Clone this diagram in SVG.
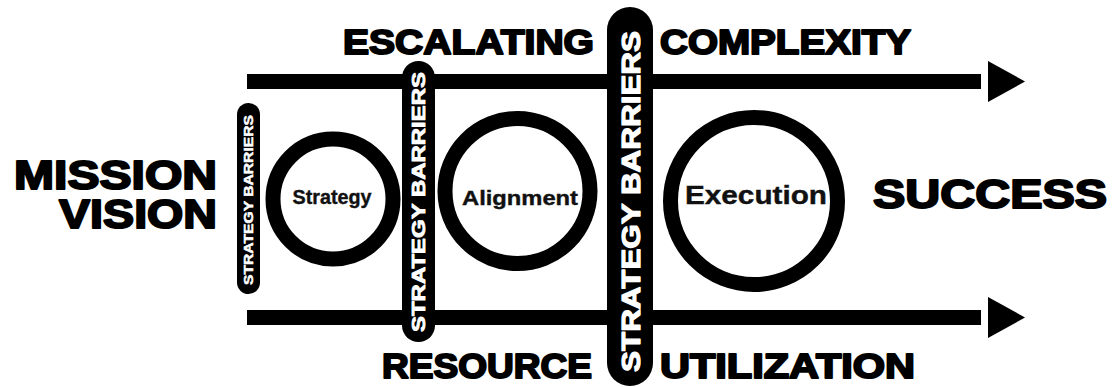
<svg xmlns="http://www.w3.org/2000/svg" width="1114" height="387" viewBox="0 0 1114 387">
  <style>
    .heading { font-family: "Liberation Sans", Arial, sans-serif; font-weight: bold; fill: #000; stroke: #000; stroke-width: 2; stroke-linejoin: round; }
    .stage-ring { fill: #fff; stroke: #000; stroke-width: 15; }
    .stage-label { font-family: "Liberation Sans", Arial, sans-serif; font-weight: bold; fill: #111; stroke: #111; stroke-width: 0.4; text-anchor: middle; }
    .barrier { fill: #000; }
    .barrier-label { font-family: "Liberation Sans", Arial, sans-serif; font-weight: bold; fill: #fff; stroke: #fff; stroke-linejoin: round; text-anchor: middle; }
    .track { fill: #000; }
  </style>
  <rect width="1114" height="387" fill="#fff"/>

  <!-- connectors: the two long tracks with their arrowheads -->
  <g id="connectors">
    <rect class="track" x="247" y="74" width="734" height="15"/>
    <polygon class="track" points="988,61 1025,81.5 988,102"/>
    <rect class="track" x="247" y="310" width="734" height="15"/>
    <polygon class="track" points="988,297 1025,317.5 988,338"/>
  </g>

  <!-- axis headings -->
  <g id="heading-top">
    <text class="heading" x="343" y="53.5" font-size="35" textLength="251" lengthAdjust="spacingAndGlyphs">ESCALATING</text>
    <text class="heading" x="660" y="53.5" font-size="35" textLength="251" lengthAdjust="spacingAndGlyphs">COMPLEXITY</text>
  </g>
  <g id="heading-bottom">
    <text class="heading" x="382" y="377.5" font-size="35" textLength="210" lengthAdjust="spacingAndGlyphs">RESOURCE</text>
    <text class="heading" x="660" y="377.5" font-size="35" textLength="255" lengthAdjust="spacingAndGlyphs">UTILIZATION</text>
  </g>

  <g id="mission-vision">
    <text class="heading" x="217" y="188.5" font-size="40" text-anchor="end" textLength="203" lengthAdjust="spacingAndGlyphs">MISSION</text>
    <text class="heading" x="217" y="227.5" font-size="40" text-anchor="end" textLength="158" lengthAdjust="spacingAndGlyphs">VISION</text>
  </g>

  <g id="success">
    <text class="heading" x="873" y="207.5" font-size="40" textLength="234" lengthAdjust="spacingAndGlyphs">SUCCESS</text>
  </g>

  <!-- stages -->
  <g id="strategy">
    <circle class="stage-ring" cx="333" cy="199" r="60"/>
    <text class="stage-label" x="332" y="204" font-size="21" textLength="79" lengthAdjust="spacingAndGlyphs">Strategy</text>
  </g>
  <g id="alignment">
    <circle class="stage-ring" cx="517.5" cy="191" r="72.5"/>
    <text class="stage-label" x="520" y="205" font-size="21" textLength="116" lengthAdjust="spacingAndGlyphs">Alignment</text>
  </g>
  <g id="execution">
    <circle class="stage-ring" cx="754" cy="201" r="83.5"/>
    <text class="stage-label" x="756" y="204" font-size="26" textLength="142" lengthAdjust="spacingAndGlyphs">Execution</text>
  </g>

  <!-- strategy barriers, growing from left to right -->
  <g id="barrier-1">
    <rect class="barrier" x="237" y="103" width="23" height="191" rx="11.5"/>
    <text class="barrier-label" transform="translate(248.5,200) rotate(-90)" x="0" y="4.5" font-size="12.5" stroke-width="0.5" textLength="170" lengthAdjust="spacingAndGlyphs">STRATEGY BARRIERS</text>
  </g>
  <g id="barrier-2">
    <rect class="barrier" x="402" y="61" width="33" height="281" rx="16.5"/>
    <text class="barrier-label" transform="translate(418.5,202) rotate(-90)" x="0" y="6.5" font-size="17.5" stroke-width="0.8" textLength="260" lengthAdjust="spacingAndGlyphs">STRATEGY BARRIERS</text>
  </g>
  <g id="barrier-3">
    <rect class="barrier" x="607" y="7" width="46" height="379" rx="23"/>
    <text class="barrier-label" transform="translate(630,201.5) rotate(-90)" x="0" y="10" font-size="26.5" stroke-width="1.2" textLength="341" lengthAdjust="spacingAndGlyphs">STRATEGY BARRIERS</text>
  </g>
</svg>
